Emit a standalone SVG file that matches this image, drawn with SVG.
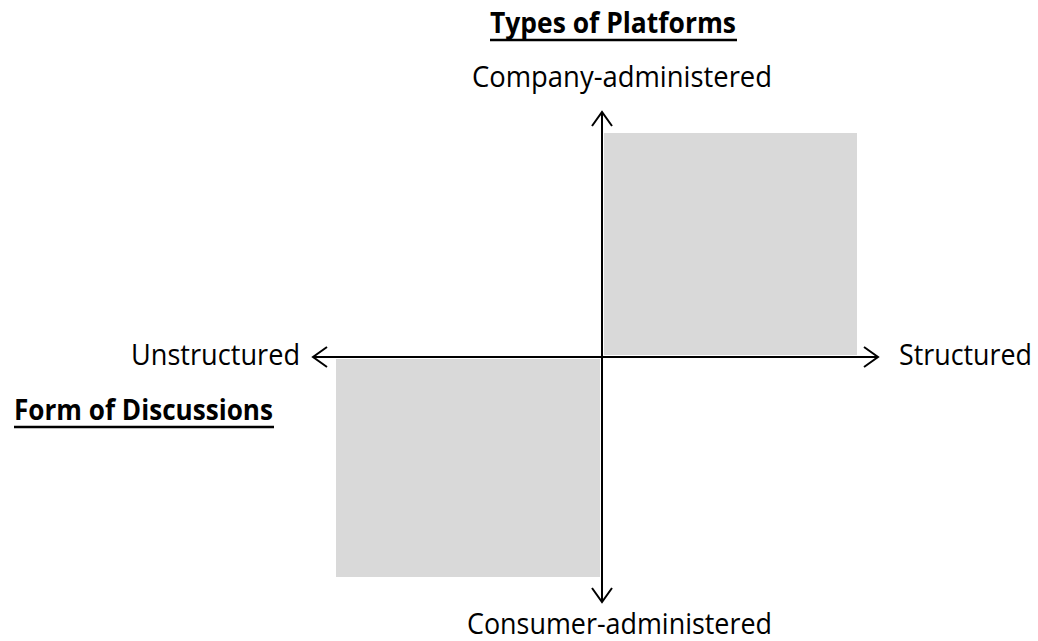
<svg xmlns="http://www.w3.org/2000/svg" width="1038" height="641" viewBox="0 0 1038 641">
  <style>
    .label { font-family: "Open Sans", "Liberation Sans", sans-serif; font-size: 29px; fill: #000; }
    .title { font-weight: bold; }
    .quad { fill: #d9d9d9; stroke: none; }
    .axis { stroke: #000; stroke-width: 2; fill: none; }
    .rule { stroke: #000; stroke-width: 2.5; }
  </style>
  <defs>
    <marker id="chevron" viewBox="-16 -12 18 24" refX="0" refY="0" markerWidth="18" markerHeight="24" markerUnits="userSpaceOnUse" orient="auto-start-reverse" overflow="visible">
      <path d="M -14 -10 L 0 0 L -14 10" fill="none" stroke="#000" stroke-width="2"/>
    </marker>
  </defs>
  <rect width="1038" height="641" fill="#fff"/>

  <!-- shaded quadrants -->
  <g id="quadrant-structured-company">
    <rect class="quad" x="604" y="133" width="253" height="222"/>
  </g>
  <g id="quadrant-unstructured-consumer">
    <rect class="quad" x="336" y="359" width="264" height="218"/>
  </g>

  <!-- axes -->
  <g id="connectors">
    <line class="axis" x1="602" y1="112" x2="602" y2="602" marker-start="url(#chevron)" marker-end="url(#chevron)"/>
    <line class="axis" x1="313" y1="357" x2="878" y2="357" marker-start="url(#chevron)" marker-end="url(#chevron)"/>
  </g>

  <!-- headings -->
  <g id="heading-platforms">
    <text class="label title" x="490" y="33" textLength="246" lengthAdjust="spacingAndGlyphs">Types of Platforms</text>
    <line class="rule" x1="490" y1="40" x2="737" y2="40"/>
  </g>
  <g id="heading-discussions">
    <text class="label title" x="14" y="420" textLength="259" lengthAdjust="spacingAndGlyphs">Form of Discussions</text>
    <line class="rule" x1="14" y1="427" x2="274" y2="427"/>
  </g>

  <!-- axis end labels -->
  <g id="label-company">
    <text class="label" x="472" y="87" textLength="300" lengthAdjust="spacingAndGlyphs">Company-administered</text>
  </g>
  <g id="label-consumer">
    <text class="label" x="467" y="634" textLength="305" lengthAdjust="spacingAndGlyphs">Consumer-administered</text>
  </g>
  <g id="label-unstructured">
    <text class="label" x="131" y="365" textLength="169" lengthAdjust="spacingAndGlyphs">Unstructured</text>
  </g>
  <g id="label-structured">
    <text class="label" x="899" y="365" textLength="133" lengthAdjust="spacingAndGlyphs">Structured</text>
  </g>
</svg>
